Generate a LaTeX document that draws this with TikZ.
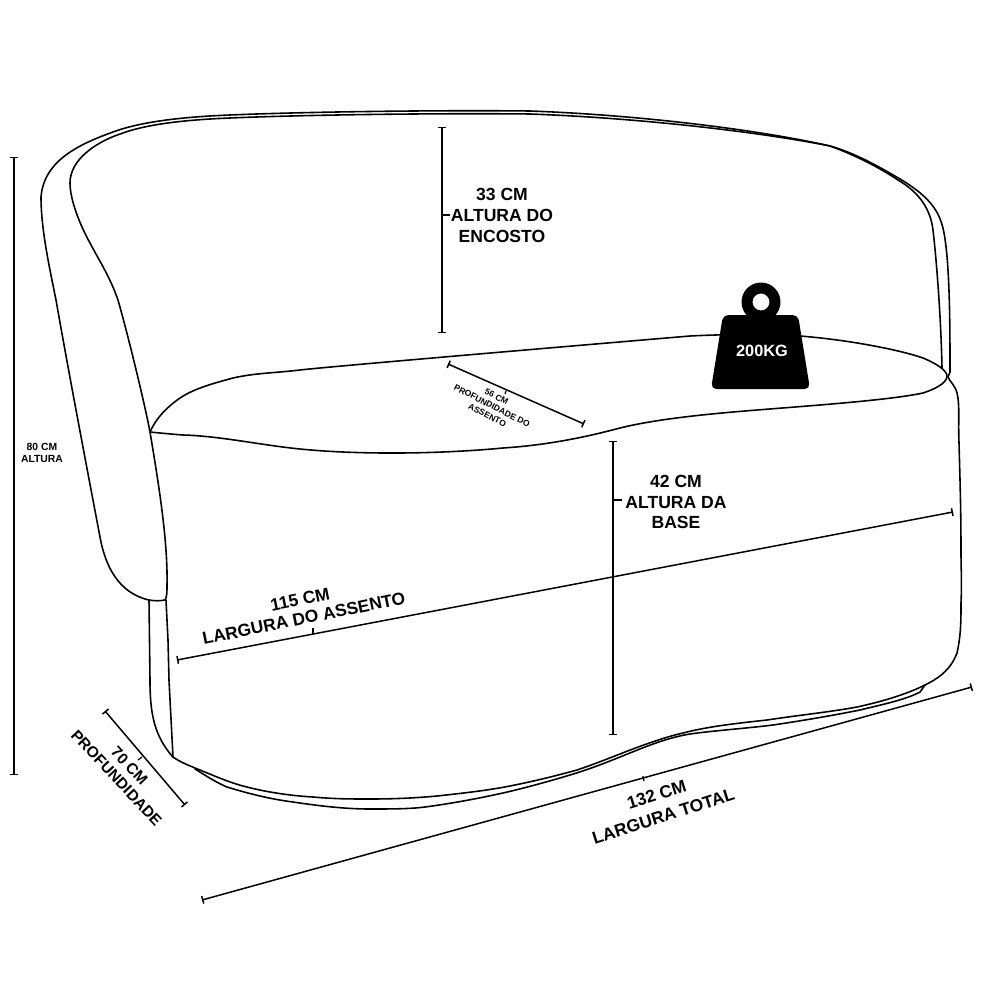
\documentclass[tikz,border=0pt]{standalone}
\usepackage{fontspec}
\setmainfont{Liberation Sans}
\usetikzlibrary{arrows.meta}
\tikzset{
  contour/.style={line width=0.9pt,black,line join=round,line cap=round},
  dimline/.style={line width=0.85pt,black,{Bar[width=4.5pt,length=0.7pt]}-{Bar[width=4.5pt,length=0.7pt]}},
  dimtick/.style={line width=0.7pt,black},
  lab/.style={font=\fontsize{10pt}{11.7pt}\selectfont\bfseries,align=center,inner sep=0pt,text=black},
  labm/.style={font=\fontsize{9.9pt}{10.8pt}\selectfont\bfseries,align=center,inner sep=0pt,text=black},
  labl/.style={font=\fontsize{9.9pt}{12.8pt}\selectfont\bfseries,align=center,inner sep=0pt,text=black},
  labd/.style={font=\fontsize{8.8pt}{10pt}\selectfont\bfseries,align=center,inner sep=0pt,text=black},
  labs/.style={font=\fontsize{5.9pt}{6.9pt}\selectfont\bfseries,align=center,inner sep=0pt,text=black},
  labt/.style={font=\fontsize{4.85pt}{5.9pt}\selectfont\bfseries,align=center,inner sep=0pt,text=black},
}
\begin{document}
\begin{tikzpicture}[x=0.02cm,y=-0.02cm]
\useasboundingbox (0,0) rectangle (1000,1000);
\fill[white] (0,0) rectangle (1000,1000);
% back and arm, outer
\draw[contour] (950,372) .. controls (950,330) and (950,265) .. (944,233)
  .. controls (940,210) and (928,197) .. (905,182)
  .. controls (880,167) and (855,153) .. (830,146)
  .. controls (760,130) and (640,115) .. (530,111)
  .. controls (430,110) and (300,112) .. (230,115)
  .. controls (180,117) and (140,122) .. (113,132)
  .. controls (80,144) and (44,160) .. (41,197)
  .. controls (41,230) and (50,270) .. (56,300)
  .. controls (70,380) and (93,500) .. (100,537)
  .. controls (105,565) and (118,593) .. (149,600)
  .. controls (155,601) and (160,601) .. (165,600);
% back, inner
\draw[contour] (942,368) .. controls (941,320) and (937,265) .. (933,230)
  .. controls (930,205) and (915,190) .. (898,180)
  .. controls (880,168) and (855,155) .. (830,146)
  .. controls (760,132) and (640,118) .. (530,114)
  .. controls (430,113) and (300,115) .. (230,118)
  .. controls (180,120) and (145,125) .. (123,133)
  .. controls (95,142) and (70,160) .. (70,183)
  .. controls (70,200) and (80,225) .. (90,243)
  .. controls (100,262) and (110,277) .. (118,300)
  .. controls (128,335) and (145,405) .. (150,432)
  .. controls (158,480) and (168,540) .. (167,585)
  .. controls (167,592) and (167,597) .. (165,600);
% seat
\draw[contour] (150,432) .. controls (157,416) and (170,405) .. (180,398)
  .. controls (195,388) and (215,383) .. (233,378)
  .. controls (255,373) and (275,373) .. (300,370)
  .. controls (325,367) and (560,347) .. (690,336)
  .. controls (730,334) and (770,334) .. (800,336)
  .. controls (850,340) and (900,350) .. (923,358)
  .. controls (935,363) and (947,370) .. (947,376)
  .. controls (947,384) and (932,390) .. (923,393)
  .. controls (890,400) and (820,405) .. (757,410)
  .. controls (720,413) and (660,418) .. (620,428)
  .. controls (590,436) and (550,445) .. (503,448)
  .. controls (440,454) and (360,455) .. (300,449)
  .. controls (260,445) and (220,436) .. (183,435)
  .. controls (170,434) and (160,433) .. (150,432) -- cycle;
% base, upper edge
\draw[contour] (149,600) -- (150,680)
  .. controls (150,710) and (153,735) .. (173,757)
  .. controls (180,762) and (188,765) .. (195,768)
  .. controls (215,776) and (230,783) .. (247,787)
  .. controls (270,793) and (295,796) .. (313,797)
  .. controls (335,799) and (350,799) .. (370,799)
  .. controls (395,799) and (415,798) .. (437,796)
  .. controls (465,793) and (490,790) .. (510,786)
  .. controls (535,781) and (555,776) .. (577,770)
  .. controls (592,765) and (607,759) .. (620,754)
  .. controls (640,746) and (665,737) .. (683,733)
  .. controls (710,726) and (740,723) .. (767,720)
  .. controls (800,715) and (830,712) .. (857,707)
  .. controls (880,702) and (905,695) .. (925,685)
  .. controls (935,680) and (950,672) .. (957,653)
  .. controls (961,635) and (961,620) .. (961,603)
  .. controls (962,580) and (961,570) .. (961,553)
  .. controls (961,510) and (960,480) .. (959,443)
  .. controls (958,420) and (960,405) .. (957,393)
  .. controls (955,385) and (950,382) .. (948,377)
  .. controls (948,375) and (950,374) .. (950,372);
% base, inner left edge
\draw[contour] (166,600) -- (168,640) -- (169,680) -- (173,757);
% base, lower edge
\draw[contour] (195,769) .. controls (205,775) and (215,782) .. (227,787)
  .. controls (250,794) and (270,799) .. (293,802)
  .. controls (320,806) and (345,809) .. (370,809)
  .. controls (390,809) and (410,809) .. (425,807)
  .. controls (455,803) and (480,798) .. (503,793)
  .. controls (525,788) and (550,781) .. (570,775)
  .. controls (590,769) and (605,763) .. (620,757)
  .. controls (640,749) and (665,738) .. (690,734)
  .. controls (710,731) and (750,728) .. (773,725)
  .. controls (800,721) and (830,716) .. (860,710)
  .. controls (880,705) and (905,700) .. (920,692)
  -- (925,685);
% weight
\fill[black,even odd rule] (761,302) circle[radius=19.5] (761,302) circle[radius=8.5];
\fill[black,rounded corners=3pt] (723,315) -- (798,315) -- (810,389) -- (711,389) -- cycle;
\node[inner sep=0pt,text=white,font=\fontsize{9.3pt}{11pt}\selectfont\bfseries] (load) at (762,351) {200KG};
% dimension points
\coordinate (a1) at (14,157); \coordinate (a2) at (14,775);
\coordinate (b1) at (442,127); \coordinate (b2) at (442,333);
\coordinate (c1) at (613,441); \coordinate (c2) at (613,735);
\coordinate (d1) at (177,660); \coordinate (d2) at (953,512);
\coordinate (e1) at (202,900); \coordinate (e2) at (972,687);
\coordinate (f1) at (105,711); \coordinate (f2) at (185,805);
\coordinate (g1) at (448,364); \coordinate (g2) at (584,424);
\draw[dimline] (a1) -- (a2);
\draw[dimline] (b1) -- (b2);
\draw[dimline] (c1) -- (c2);
\draw[dimline] (d1) -- (d2);
\draw[dimline] (e1) -- (e2);
\draw[dimline] (f1) -- (f2);
\draw[dimline] (g1) -- (g2);
% ticks
\draw[dimtick] (442,215) -- (450,215);
\draw[dimtick] (613,500) -- (622,500);
\draw[dimtick] (313,634) -- (313,628);
\draw[dimtick] (643,776) -- (644,781);
\draw[dimtick] (142,757) -- (138,760);
\draw[dimtick] (506,391) -- (505,394);
% labels
\node[labs] (t80) at (42,453) {80 CM\\ALTURA};
\node[lab] (t33) at (502,215.5) {33 CM\\ALTURA DO\\ENCOSTO};
\node[lab] (t42) at (676,502) {42 CM\\ALTURA DA\\BASE};
\node[labm,rotate=11.5] (t115) at (302,609) {115 CM\\LARGURA DO ASSENTO};
\node[labl,rotate=17.5] (t132) at (660,805.5) {132 CM\\LARGURA TOTAL};
\node[labd,rotate=-47] (t70) at (123,772) {70 CM\\PROFUNDIDADE};
\node[labt,rotate=-27] (t56) at (492,406) {56 CM\\PROFUNDIDADE DO\\ASSENTO};
\end{tikzpicture}
\end{document}
